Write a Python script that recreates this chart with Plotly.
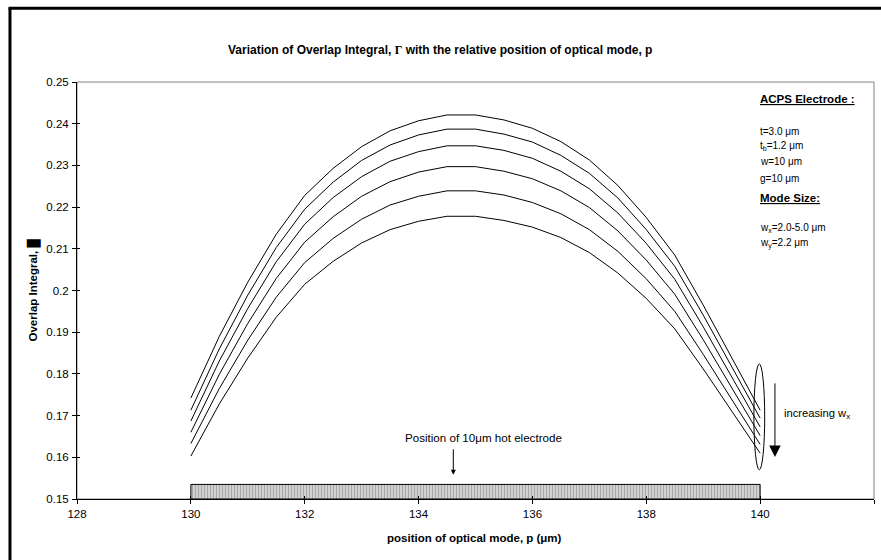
import plotly.graph_objects as go

# Optical mode position across the ACPS electrode (µm)
position_um = [130.0, 130.5, 131.0, 131.5, 132.0, 132.5, 133.0, 133.5, 134.0, 134.5,
               135.0, 135.5, 136.0, 136.5, 137.0, 137.5, 138.0, 138.5, 139.0, 139.5, 140.0]

# Overlap integral for mode widths wx = 2.0 ... 5.0 µm (wy = 2.2 µm)
overlap_wx_2_0 = [0.1742, 0.1890, 0.2020, 0.2135, 0.2228, 0.2293, 0.2345, 0.2383, 0.2407, 0.2421,
                  0.2421, 0.2409, 0.2389, 0.2357, 0.2313, 0.2252, 0.2175, 0.2085, 0.1965, 0.1840, 0.1713]
overlap_wx_2_6 = [0.1713, 0.1860, 0.1989, 0.2103, 0.2195, 0.2260, 0.2312, 0.2349, 0.2373, 0.2387,
                  0.2387, 0.2375, 0.2356, 0.2324, 0.2281, 0.2222, 0.2146, 0.2058, 0.1941, 0.1818, 0.1694]
overlap_wx_3_2 = [0.1687, 0.1831, 0.1957, 0.2069, 0.2159, 0.2223, 0.2273, 0.2310, 0.2333, 0.2347,
                  0.2347, 0.2336, 0.2317, 0.2286, 0.2244, 0.2186, 0.2113, 0.2027, 0.1913, 0.1794, 0.1673]
overlap_wx_3_8 = [0.1660, 0.1799, 0.1921, 0.2029, 0.2116, 0.2177, 0.2226, 0.2261, 0.2284, 0.2297,
                  0.2297, 0.2286, 0.2268, 0.2239, 0.2199, 0.2143, 0.2073, 0.1991, 0.1882, 0.1768, 0.1652]
overlap_wx_4_4 = [0.1633, 0.1765, 0.1881, 0.1984, 0.2067, 0.2125, 0.2171, 0.2205, 0.2226, 0.2239,
                  0.2239, 0.2229, 0.2211, 0.2184, 0.2146, 0.2094, 0.2028, 0.1950, 0.1847, 0.1740, 0.1631]
overlap_wx_5_0 = [0.1603, 0.1728, 0.1838, 0.1936, 0.2015, 0.2070, 0.2114, 0.2146, 0.2166, 0.2178,
                  0.2178, 0.2168, 0.2152, 0.2127, 0.2091, 0.2042, 0.1981, 0.1908, 0.1812, 0.1712, 0.1610]

curves = [overlap_wx_2_0, overlap_wx_2_6, overlap_wx_3_2,
          overlap_wx_3_8, overlap_wx_4_4, overlap_wx_5_0]

# Hot electrode footprint (µm) and its drawn height on the overlap axis
electrode_x = [130.0, 140.0]
electrode_y = [0.15, 0.1535]

x_tick_vals = [128, 130, 132, 134, 136, 138, 140, 142]
x_tick_text = ["128", "130", "132", "134", "136", "138", "140", "142"]
y_tick_vals = [0.15, 0.16, 0.17, 0.18, 0.19, 0.20, 0.21, 0.22, 0.23, 0.24, 0.25]
y_tick_text = ["0.15", "0.16", "0.17", "0.18", "0.19", "0.2", "0.21", "0.22", "0.23", "0.24", "0.25"]

FONT = "Liberation Sans, Arial, sans-serif"

fig = go.Figure()

# hatched electrode bar
fig.add_trace(go.Scatter(
    x=[electrode_x[0], electrode_x[1], electrode_x[1], electrode_x[0], electrode_x[0]],
    y=[electrode_y[0], electrode_y[0], electrode_y[1], electrode_y[1], electrode_y[0]],
    mode="lines", fill="toself",
    fillpattern=dict(shape="|", fgcolor="#7a7a7a", bgcolor="#d6d6d6", size=3, solidity=0.4),
    line=dict(color="black", width=1), hoverinfo="skip", showlegend=False))

for c in curves:
    fig.add_trace(go.Scatter(x=position_um, y=c, mode="lines",
                             line=dict(color="black", width=1), showlegend=False))

# companion axes carrying the inward half of the crossing tick marks
fig.add_trace(go.Scatter(x=[128], y=[0.15], xaxis="x2", yaxis="y2", mode="markers",
                         marker=dict(opacity=0), hoverinfo="skip", showlegend=False))

axis_common = dict(showgrid=False, zeroline=False, tickfont=dict(family=FONT, size=11.5, color="black"))

fig.update_layout(
    width=881, height=560,
    margin=dict(l=77, r=7, t=82, b=61),
    paper_bgcolor="white", plot_bgcolor="white",
    xaxis=dict(range=[128, 142], tickvals=x_tick_vals, ticktext=x_tick_text,
               ticks="outside", ticklen=4, tickcolor="black", tickwidth=1,
               showline=True, linecolor="black", linewidth=1, **axis_common),
    yaxis=dict(range=[0.15, 0.25], tickvals=y_tick_vals, ticktext=y_tick_text,
               ticks="outside", ticklen=4, tickcolor="black", tickwidth=1,
               ticklabelstandoff=1,
               showline=True, linecolor="black", linewidth=1, **axis_common),
    xaxis2=dict(range=[128, 142], overlaying="x", anchor="y", side="bottom",
                tickvals=x_tick_vals, ticks="inside", ticklen=3, tickcolor="black",
                showticklabels=False, showgrid=False, zeroline=False, showline=False),
    yaxis2=dict(range=[0.15, 0.25], overlaying="y", anchor="x", side="left",
                tickvals=y_tick_vals, ticks="inside", ticklen=3, tickcolor="black",
                showticklabels=False, showgrid=False, zeroline=False, showline=False),
    showlegend=False,
)

shapes = [
    # grey frame of the plot area
    dict(type="rect", xref="paper", yref="paper", x0=0, x1=1, y0=0, y1=1,
         line=dict(color="#808080", width=1), layer="below"),
    # outer chart border
    dict(type="line", xref="paper", yref="paper", x0=-0.0841, x1=-0.0841, y0=1.177, y1=-0.2,
         line=dict(color="black", width=3)),
    dict(type="line", xref="paper", yref="paper", x0=-0.0860, x1=1.05, y0=1.177, y1=1.177,
         line=dict(color="black", width=3)),
    # ellipse round the right-hand ends
    dict(type="circle", xref="x", yref="y", x0=139.89, x1=140.08, y0=0.157, y1=0.1824,
         line=dict(color="black", width=1)),
]
fig.update_layout(shapes=shapes)

ann = []
ann.append(dict(xref="paper", yref="paper", x=0.4555, y=1.0767, xanchor="center", yanchor="middle",
                showarrow=False,
                text="<b>Variation of Overlap Integral, <span style=\"font-family:'Liberation Serif'\">Γ</span>"
                     " with the relative position of optical mode, p</b>",
                font=dict(family=FONT, size=12, color="black")))
ann.append(dict(xref="paper", yref="paper", x=0.4987, y=-0.0935, xanchor="center", yanchor="middle",
                showarrow=False, text="<b>position of optical mode, p (μm)</b>",
                font=dict(family=FONT, size=11.5, color="black")))
ann.append(dict(xref="paper", yref="paper", x=-0.0552, y=0.5, xanchor="center", yanchor="middle",
                showarrow=False, textangle=-90, text="<b>Overlap Integral, █</b>",
                font=dict(family=FONT, size=11.5, color="black")))

side_lines = [
    ("<b><u>ACPS Electrode :</u></b>", 99, 11.5),
    ("t=3.0 μm", 131, 10),
    ("t<sub>b</sub>=1.2 μm", 146, 10),
    ("w=10 μm", 161, 10),
    ("g=10 μm", 178, 10),
    ("<b><u>Mode Size:</u></b>", 198, 11.5),
    ("w<sub>x</sub>=2.0-5.0 μm", 228, 10),
    ("w<sub>y</sub>=2.2 μm", 243, 10),
]
for text, py, fs in side_lines:
    ann.append(dict(xref="paper", yref="paper", x=(758 - 77) / 797, y=(499 - py) / 417,
                    xanchor="left", yanchor="middle", showarrow=False, text=text,
                    font=dict(family=FONT, size=fs, color="black")))

ann.append(dict(xref="paper", yref="paper", x=(782 - 77) / 797, y=(499 - 414) / 417,
                xanchor="left", yanchor="middle", showarrow=False,
                text="increasing w<sub>x</sub>", font=dict(family=FONT, size=11.2, color="black")))
ann.append(dict(xref="paper", yref="paper", x=(484 - 77) / 797, y=(499 - 437) / 417,
                xanchor="center", yanchor="middle", showarrow=False,
                text="Position of 10μm hot electrode", font=dict(family=FONT, size=11.6, color="black")))

# arrows
ann.append(dict(xref="x", yref="y", x=134.61, y=0.1558, ax=0, ay=-27, text="",
                showarrow=True, arrowhead=2, arrowsize=1, arrowwidth=1, arrowcolor="black"))
ann.append(dict(xref="x", yref="y", x=140.26, y=0.1601, ax=0, ay=-75, text="",
                showarrow=True, arrowhead=2, arrowsize=2.3, arrowwidth=1, arrowcolor="black"))

fig.update_layout(annotations=ann)

fig.write_html("out.html")
